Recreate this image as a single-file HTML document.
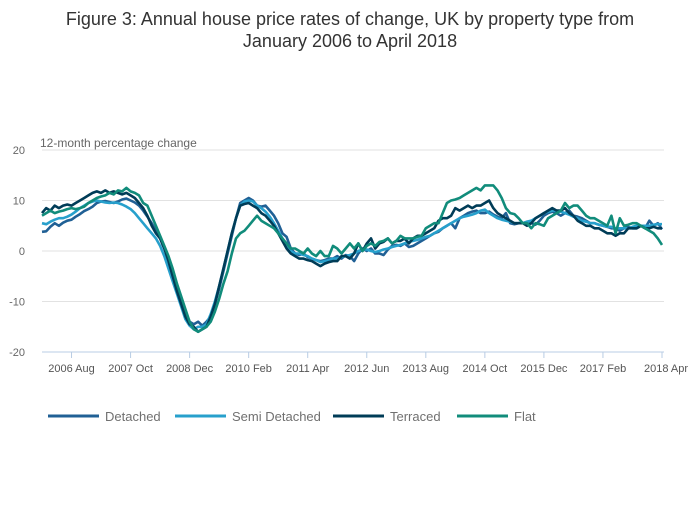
<!DOCTYPE html>
<html><head><meta charset="utf-8"><style>
body{margin:0;background:#fff;font-family:"Liberation Sans",sans-serif;}
svg text{font-family:"Liberation Sans",sans-serif;}
</style></head><body>
<svg id="chart" width="700" height="502">
<text x="350" y="25" text-anchor="middle" font-size="18" fill="#333">Figure 3: Annual house price rates of change, UK by property type from</text>
<text x="350" y="47" text-anchor="middle" font-size="18" fill="#333">January 2006 to April 2018</text>
<text x="40" y="147" font-size="12" fill="#666">12-month percentage change</text>
<g id="grid"></g><g id="series"></g><g id="legend"></g>
</svg>
<script>
const yTicks=[20,10,0,-10,-20];
const xTickLabels=["2006 Aug","2007 Oct","2008 Dec","2010 Feb","2011 Apr","2012 Jun","2013 Aug","2014 Oct","2015 Dec","2017 Feb","2018 Apr"];
const xTickMonths=[7,21,35,49,63,77,91,105,119,133,147];
const seriesNames=["Detached","Semi Detached","Terraced","Flat"];
const seriesColors=["#206095","#27a0cc","#003c57","#118c7b"];
const detached=[3.8,3.9,4.8,5.5,5.0,5.6,6.0,6.2,6.8,7.3,7.9,8.3,
8.8,9.5,9.8,9.9,9.7,9.5,9.8,10.2,10.4,10.0,9.6,9.0,
8.0,6.8,5.5,4.0,2.5,0.5,-1.5,-4.0,-7.0,-9.5,-12.0,-14.0,
-14.5,-14.0,-14.8,-14.0,-13.0,-10.5,-7.5,-4.0,-0.5,3.0,6.5,9.5,
10.0,10.5,10.0,9.0,8.8,9.0,8.0,7.0,5.5,3.5,2.8,0.5,
-0.5,-0.8,-0.5,-1.2,-1.5,-1.8,-2.0,-1.8,-1.5,-1.5,-1.0,-1.5,
-0.8,-1.0,-2.0,-0.5,0.5,0.0,0.5,-0.5,-0.5,-0.8,0.3,1.0,
1.2,1.0,1.5,0.8,1.0,1.5,2.0,2.5,3.0,3.5,3.8,4.5,
5.0,5.5,4.5,6.5,7.0,7.5,7.8,8.0,7.5,7.5,7.8,7.2,
6.8,6.5,7.5,5.5,5.3,5.5,5.5,5.8,5.5,5.2,6.0,7.0,
7.5,7.8,7.5,7.0,7.5,8.0,7.0,6.8,6.5,6.0,5.5,5.5,
5.2,5.0,4.8,4.5,4.5,4.0,4.5,4.8,4.5,4.5,5.0,4.5,
6.0,5.0,5.5,4.3];
const semiDetached=[5.5,5.3,5.8,6.2,6.5,6.5,6.8,7.2,7.8,8.5,9.0,9.5,
9.8,10.0,9.8,9.6,9.5,9.6,9.5,9.2,8.8,8.3,7.5,6.5,
5.5,4.5,3.5,2.5,1.0,-1.0,-3.5,-6.0,-8.5,-11.0,-13.5,-14.8,
-15.5,-15.0,-15.0,-14.5,-12.5,-10.0,-7.0,-3.5,0.0,3.5,6.5,9.0,
9.8,10.0,9.8,9.0,8.5,7.8,6.8,5.5,4.0,2.5,1.0,0.0,
-0.5,-0.5,-0.8,-1.0,-1.5,-1.8,-2.2,-2.0,-1.8,-1.5,-1.5,-1.2,
-1.0,-0.8,-0.5,0.0,0.3,0.3,0.0,-0.2,0.0,0.3,0.5,0.8,
1.0,1.2,1.5,1.8,2.0,2.2,2.5,2.8,3.0,3.5,4.0,4.5,
5.0,5.5,6.0,6.5,6.8,7.0,7.2,7.5,8.0,8.2,7.5,7.0,
6.5,6.2,6.0,5.8,5.5,5.5,5.5,5.8,6.0,6.5,7.0,7.5,
7.8,8.0,8.0,7.8,7.5,7.2,6.8,6.5,6.0,5.8,5.5,5.5,
5.2,5.0,4.8,4.8,4.5,4.5,4.5,4.5,4.8,5.0,5.0,5.0,
5.0,5.2,5.3,5.3];
const terraced=[7.5,8.5,8.0,9.0,8.5,9.0,9.2,9.0,9.5,10.0,10.5,11.0,
11.5,11.8,11.5,12.0,11.5,11.8,11.5,11.2,11.5,11.0,10.5,9.5,
8.5,7.0,5.0,3.5,2.5,0.5,-2.0,-5.0,-8.0,-10.5,-13.0,-14.5,
-15.0,-16.0,-15.5,-15.0,-13.0,-10.5,-7.0,-3.5,0.0,3.5,6.5,9.0,
9.3,9.5,9.0,8.5,7.5,7.0,6.0,5.0,3.5,2.0,0.5,-0.5,
-1.0,-1.5,-1.5,-1.8,-2.0,-2.5,-3.0,-2.5,-2.2,-2.0,-2.0,-1.0,
-1.0,-1.5,-0.5,1.5,0.0,1.5,2.5,0.5,1.5,1.8,2.5,1.5,
2.0,2.0,2.5,1.5,2.5,3.0,3.0,3.5,4.0,4.5,6.0,6.5,
6.5,7.0,8.5,8.0,8.5,9.0,8.5,9.0,9.0,9.5,10.0,8.5,
7.5,7.0,6.5,6.0,5.5,5.5,5.5,5.0,5.5,6.5,7.0,7.5,
8.0,8.5,8.0,8.0,8.5,7.5,7.0,6.0,5.5,5.0,5.0,4.5,
4.5,4.0,3.5,3.5,3.0,3.5,3.5,4.5,4.5,4.5,5.0,4.5,
4.5,4.8,4.5,4.5];
const flat=[7.0,7.5,8.0,7.5,7.8,8.0,8.3,8.5,8.3,8.5,8.8,9.5,
10.0,10.5,10.8,11.0,11.5,11.2,12.0,11.8,12.5,11.8,11.5,11.0,
9.5,9.0,7.0,5.0,3.0,1.0,-1.0,-3.5,-6.5,-9.0,-11.5,-14.0,
-15.5,-16.0,-15.5,-15.0,-14.0,-12.0,-9.5,-6.5,-4.0,-0.5,2.5,3.5,
4.0,5.0,6.0,7.0,6.0,5.5,5.0,4.5,3.5,2.5,1.5,0.5,
0.5,0.0,-0.5,0.5,-0.5,-1.0,0.0,-1.0,-1.0,1.0,0.5,-0.5,
0.5,1.5,0.5,1.5,0.0,1.0,1.5,1.0,1.8,2.0,2.5,1.5,
2.0,3.0,2.5,2.5,2.5,2.8,3.0,4.5,5.0,5.5,5.5,7.5,
9.5,10.0,10.2,10.5,11.0,11.5,12.0,12.5,12.0,13.0,13.0,13.0,
12.0,10.5,8.5,7.5,7.3,6.5,5.5,5.5,4.5,5.5,5.3,5.0,
6.5,7.0,7.5,8.0,9.5,8.5,9.0,9.0,8.0,7.0,6.5,6.5,
6.0,5.5,5.0,7.0,3.5,6.5,5.0,5.2,5.5,5.5,5.0,4.5,
4.0,3.5,2.5,1.2];
const allSeries=[detached,semiDetached,terraced,flat];

const NS="http://www.w3.org/2000/svg";
const X0=42,X1=662,Y0=251,PPU=5.05;
const xScale=m=>X0+m*(X1-X0)/147;
const yScale=v=>Y0-v*PPU;
function mk(tag,attrs,parent){const e=document.createElementNS(NS,tag);for(const k in attrs)e.setAttribute(k,attrs[k]);parent.appendChild(e);return e;}
const grid=document.getElementById('grid');
yTicks.forEach(t=>{
  if(t!==-20){const l=mk('line',{x1:X0,x2:X1+2,y1:yScale(t),y2:yScale(t),stroke:'#e2e2e2','stroke-width':1},grid);
  
  }
  const tx=mk('text',{x:25,y:yScale(t)+4,'text-anchor':'end','font-size':11,fill:'#666'},grid);
  tx.textContent=t;
  
  
});
const ax=mk('line',{x1:X0,x2:X1+2,y1:yScale(-20),y2:yScale(-20),stroke:'#b8cce4','stroke-width':1},grid);


xTickMonths.forEach((m,i)=>{
  const x=xScale(m);
  const tk=mk('line',{x1:x,x2:x,y1:yScale(-20),y2:yScale(-20)+6,stroke:'#b8cce4'},grid);
  
  
  const tx=mk('text',{x:x+(i===xTickLabels.length-1?4:0),y:372,'text-anchor':'middle','font-size':11,fill:'#555'},grid);
  tx.textContent=xTickLabels[i];
  
  
});
const sg=document.getElementById('series');
allSeries.forEach((s,i)=>{
  const d=s.map((v,m)=>(m?'L':'M')+xScale(m).toFixed(1)+','+yScale(v).toFixed(1)).join('');
  const p=mk('path',{d:d,fill:'none',stroke:seriesColors[i],'stroke-width':2.6,'stroke-linejoin':'round'},sg);
  
  
});
const lg=document.getElementById('legend');
const lx=[48,175,333,457];
seriesNames.forEach((n,i)=>{
  const g=mk('g',{},lg);
  
  
  mk('line',{x1:lx[i],x2:lx[i]+51,y1:416,y2:416,stroke:seriesColors[i],'stroke-width':3},g);
  const t=mk('text',{x:lx[i]+57,y:421,'font-size':13,fill:'#707070'},g);
  t.textContent=n;
});
</script>
</body></html>
